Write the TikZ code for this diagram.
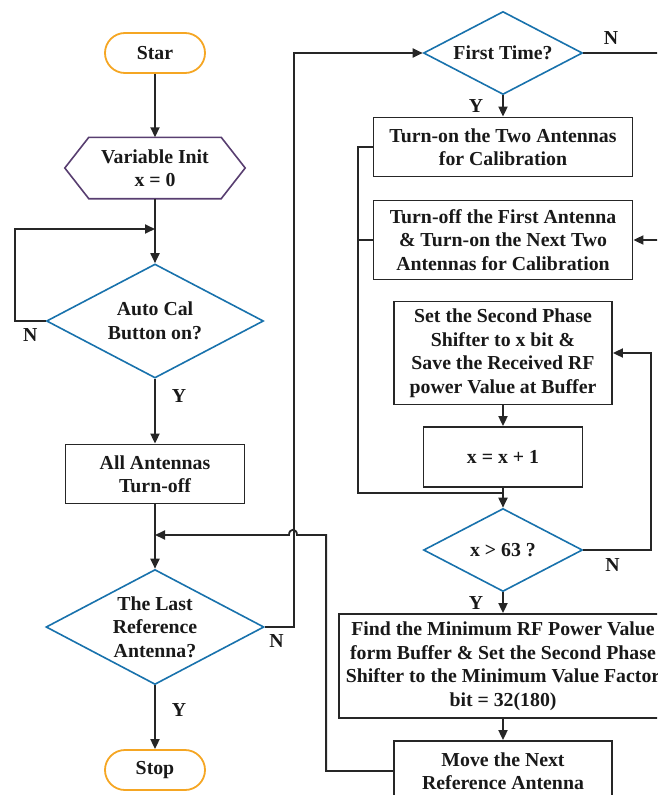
\documentclass[tikz,border=0pt]{standalone}
\usepackage{fontspec}
\setmainfont{Liberation Serif}
\usetikzlibrary{shapes.geometric,arrows.meta,positioning}
\definecolor{termorange}{RGB}{245,166,35}
\definecolor{decblue}{RGB}{24,114,172}
\definecolor{initpurple}{RGB}{88,62,112}

\begin{document}
\begin{tikzpicture}[x=1pt,y=-1pt,
  every node/.style={font=\fontsize{19.8}{23.5}\selectfont\bfseries,align=center,text=black!90},
  term/.style={draw=termorange,line width=1.8pt,rounded corners=20pt,minimum width=100pt,minimum height=40pt,inner sep=0pt},
  proc/.style={draw=black!85,line width=1.8pt,inner sep=0pt},
  decision/.style={diamond,draw=decblue,line width=1.6pt,aspect=1.9,inner sep=0pt},
  lab/.style={inner sep=0pt},
  wire/.style={line width=1.8pt,draw=black!85},
  arr/.style={wire,-{Triangle[length=10pt,width=9pt]}}]
\path[use as bounding box] (0,0) rectangle (657,795);
\clip (0,0) rectangle (657,795);
% left column
\node[term] (star) at (155,53) {Star};
\node[minimum width=180pt,minimum height=61pt,inner sep=0pt] (init) at (155,168) {Variable Init\\x = 0};
\draw[initpurple,line width=1.6pt] (init.west) -- ([xshift=24pt]init.north west) -- ([xshift=-24pt]init.north east)
  -- (init.east) -- ([xshift=-24pt]init.south east) -- ([xshift=24pt]init.south west) -- cycle;
\node[decision,minimum width=217pt,minimum height=114pt] (autocal) at (155,321) {Auto Cal\\Button on?};
\node[proc,minimum width=179pt,minimum height=59pt] (alloff) at (155,474) {All Antennas\\Turn-off};
\node[decision,minimum width=218pt,minimum height=115pt] (last) at (155,627) {The Last\\Reference\\Antenna?};
\node[term] (stop) at (155,770) {Stop};
% right column
\node[decision,minimum width=159pt,minimum height=83pt] (first) at (503,53) {First Time?};
\node[proc,minimum width=259pt,minimum height=59pt] (turnon) at (503,147) {Turn-on the Two Antennas\\for Calibration};
\node[proc,minimum width=259pt,minimum height=79pt] (turnoff) at (503,240) {Turn-off the First Antenna\\\& Turn-on the Next Two\\Antennas for Calibration};
\node[proc,minimum width=218pt,minimum height=103pt] (setps) at (503,353) {Set the Second Phase\\Shifter to x bit \&\\Save the Received RF\\power Value at Buffer};
\node[proc,minimum width=159pt,minimum height=60pt] (inc) at (503,457) {x = x + 1};
\node[decision,minimum width=159pt,minimum height=83pt] (xgt) at (503,550) {x > 63 ?};
\node[proc,minimum width=328pt,minimum height=104pt] (findmin) at (503,666) {Find the Minimum RF Power Value\\form Buffer \& Set the Second Phase\\Shifter to the Minimum Value Factor\\bit = 32(180)};
\node[proc,minimum width=218pt,minimum height=60pt] (move) at (503,771) {Move the Next\\Reference Antenna};
% junctions
\coordinate (j1) at (155,229);
\coordinate (j2) at (155,535);
\coordinate (j3) at (503,493);
\coordinate (offN) at (665,53);
\coordinate (offT) at (665,240);
\coordinate (hopR) at (297,535);
\coordinate (hopL) at (289,535);
% connectors
\draw[arr] (star) -- (init);
\draw[arr] (init) -- (autocal);
\draw[arr] (autocal.west) -- node[lab,below=7pt] {N} ++(-31,0) |- (j1);
\draw[arr] (autocal) -- node[lab,pos=0.27,right=16pt] {Y} (alloff);
\draw[arr] (alloff) -- (last);
\draw[arr] (last.east) -- node[lab,below=7pt,pos=0.4] {N} ++(29,0) |- (first.west);
\draw[arr] (last) -- node[lab,pos=0.38,right=16pt] {Y} (stop);
\draw[wire] (first.east) -- node[lab,above=8pt,pos=0.34] {N} (offN);
\draw[arr] (first) -- node[lab,left=19pt,pos=0.5] {Y} (turnon);
\draw[arr] (offT) -- (turnoff.east);
\draw[wire] (turnon.west) -- ++(-15,0) |- (j3);
\draw[wire] (turnoff.west) -- ++(-15,0);
\draw[arr] (setps) -- (inc);
\draw[arr] (inc) -- (xgt);
\draw[arr] (xgt.east) -- node[lab,below=8pt,pos=0.43] {N} ++(68,0) |- (setps.east);
\draw[arr] (xgt) -- node[lab,left=19pt,pos=0.5] {Y} (findmin);
\draw[arr] (findmin) -- (move);
\draw[arr] (move.west) -- ++(-67,0) |- (hopR) .. controls +(0,-7) and +(0,-7) .. (hopL) -- (j2);
\end{tikzpicture}
\end{document}
